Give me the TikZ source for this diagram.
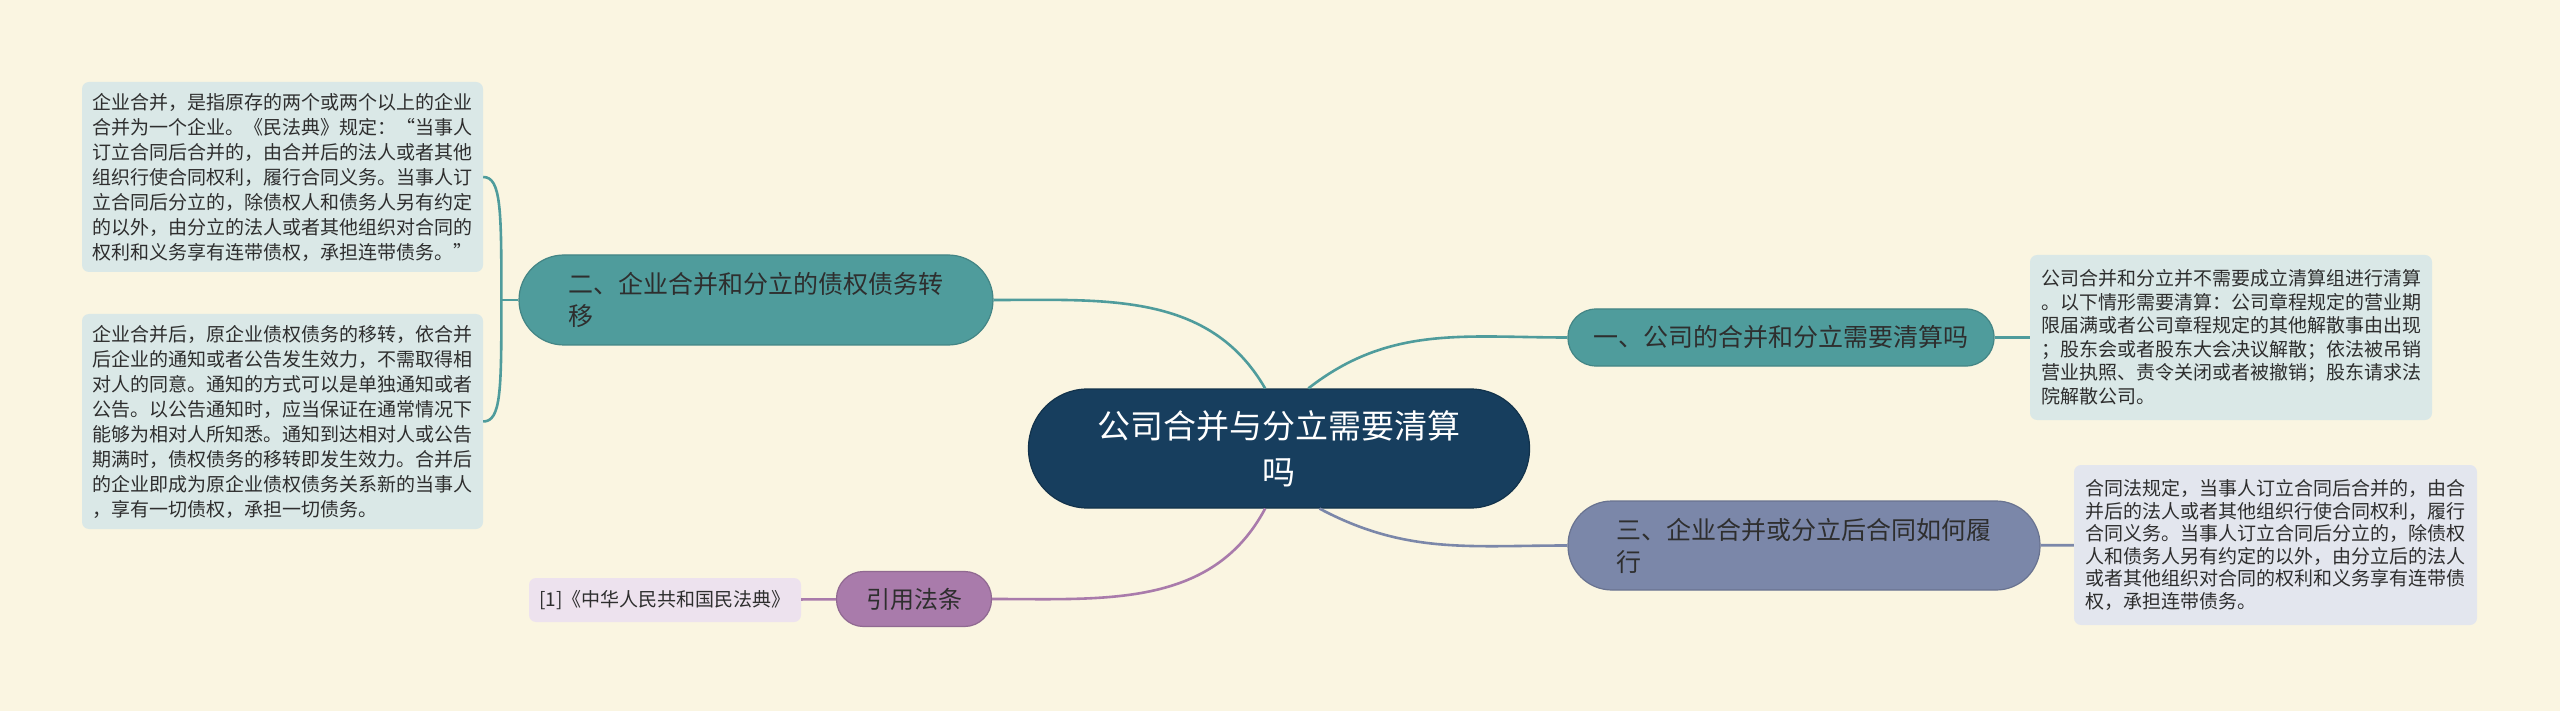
\documentclass[tikz,border=0pt]{standalone}
\usepackage{fontspec}
\newfontfamily\cjk{Noto Sans CJK SC}
\definecolor{bgcol}{HTML}{FAF5E1}
\definecolor{rootcol}{HTML}{173E5E}
\definecolor{tealcol}{HTML}{4F9C9C}
\definecolor{slatecol}{HTML}{7B87A9}
\definecolor{plumcol}{HTML}{A97BAB}
\definecolor{tealleaf}{HTML}{DAE8E7}
\definecolor{slateleaf}{HTML}{E3E6EE}
\definecolor{plumleaf}{HTML}{EDE2EE}
\definecolor{inkcol}{HTML}{2E2E2E}

\begin{document}
\begin{tikzpicture}[x=1pt,y=-1pt,
  root/.style={draw=rootcol!80!black,line width=1.2pt,fill=rootcol,text=white,rounded corners=59pt,
    minimum width=501pt,minimum height=119pt,inner sep=0pt,align=center,
    font={\cjk\fontsize{33}{46}\selectfont}},
  branch/.style={draw=#1!85!black,line width=1.2pt,fill=#1,text=inkcol,inner sep=0pt,align=left,
    font={\cjk\fontsize{25}{32}\selectfont}},
  leaf/.style={fill=#1,text=inkcol,rounded corners=7pt,inner sep=0pt,align=left,
    font={\cjk\fontsize{19}{25}\selectfont}},
  link/.style={line width=2.6pt,draw=#1}]
  \useasboundingbox[fill=bgcol] (0,0) rectangle (2560,711);
  % centre
  \node[root] (root) at (1279,448.5) {公司合并与分立需要清算\\吗};
  % branches
  \node[branch=tealcol,rounded corners=45pt,minimum width=474pt,minimum height=90pt] (two) at (756,300)
    {二、企业合并和分立的债权债务转\\移};
  \node[branch=tealcol,rounded corners=28pt,minimum width=426pt,minimum height=57pt] (one) at (1781,337.5)
    {一、公司的合并和分立需要清算吗};
  \node[branch=slatecol,rounded corners=44pt,minimum width=472pt,minimum height=89pt] (three) at (1804,545.5)
    {三、企业合并或分立后合同如何履\\行};
  \node[branch=plumcol,rounded corners=27pt,minimum width=155pt,minimum height=55pt,font={\cjk\fontsize{24}{30}\selectfont}] (law) at (914,599)
    {引用法条};
  % leaves
  \node[leaf=tealleaf,minimum width=401pt,minimum height=190pt] (merge) at (282.5,177)
    {企业合并，是指原存的两个或两个以上的企业\\
     合并为一个企业。《民法典》规定：“当事人\\
     订立合同后合并的，由合并后的法人或者其他\\
     组织行使合同权利，履行合同义务。当事人订\\
     立合同后分立的，除债权人和债务人另有约定\\
     的以外，由分立的法人或者其他组织对合同的\\
     权利和义务享有连带债权，承担连带债务。”};
  \node[leaf=tealleaf,minimum width=401pt,minimum height=215pt] (notice) at (282.5,421.5)
    {企业合并后，原企业债权债务的移转，依合并\\
     后企业的通知或者公告发生效力，不需取得相\\
     对人的同意。通知的方式可以是单独通知或者\\
     公告。以公告通知时，应当保证在通常情况下\\
     能够为相对人所知悉。通知到达相对人或公告\\
     期满时，债权债务的移转即发生效力。合并后\\
     的企业即成为原企业债权债务关系新的当事人\\
     ，享有一切债权，承担一切债务。};
  \node[leaf=tealleaf,minimum width=402pt,minimum height=165pt,font={\cjk\fontsize{19}{23.5}\selectfont}] (liquid) at (2231,337.5)
    {公司合并和分立并不需要成立清算组进行清算\\
     。以下情形需要清算：公司章程规定的营业期\\
     限届满或者公司章程规定的其他解散事由出现\\
     ；股东会或者股东大会决议解散；依法被吊销\\
     营业执照、责令关闭或者被撤销；股东请求法\\
     院解散公司。};
  \node[leaf=slateleaf,minimum width=403pt,minimum height=160pt,font={\cjk\fontsize{19}{22.5}\selectfont}] (contract) at (2275.5,545)
    {合同法规定，当事人订立合同后合并的，由合\\
     并后的法人或者其他组织行使合同权利，履行\\
     合同义务。当事人订立合同后分立的，除债权\\
     人和债务人另有约定的以外，由分立后的法人\\
     或者其他组织对合同的权利和义务享有连带债\\
     权，承担连带债务。};
  \node[leaf=plumleaf,minimum width=272pt,minimum height=44pt] (code) at (665,600)
    {[1]《中华人民共和国民法典》};
  % connectors
  \draw[link=tealcol] (root.103) to[out=120,in=0] (two.east);
  \draw[link=tealcol] (root.64) to[out=38,in=180] (one.west);
  \draw[link=slatecol] (root.-56) to[out=-28,in=180] (three.west);
  \draw[link=plumcol] (root.-103) to[out=-118,in=0] (law.east);
  \coordinate (fork) at ([xshift=-17pt]two.west);
  \draw[link=tealcol] (two.west) -- (fork);
  \draw[link=tealcol] (fork) .. controls +(0,-90) and +(18,0) .. (merge.east);
  \draw[link=tealcol] (fork) .. controls +(0,90) and +(18,0) .. (notice.east);
  \foreach \a/\b/\c in {one/liquid/tealcol,three/contract/slatecol,law/code/plumcol}
    \draw[link=\c] (\a) -- (\b);
\end{tikzpicture}
\end{document}
